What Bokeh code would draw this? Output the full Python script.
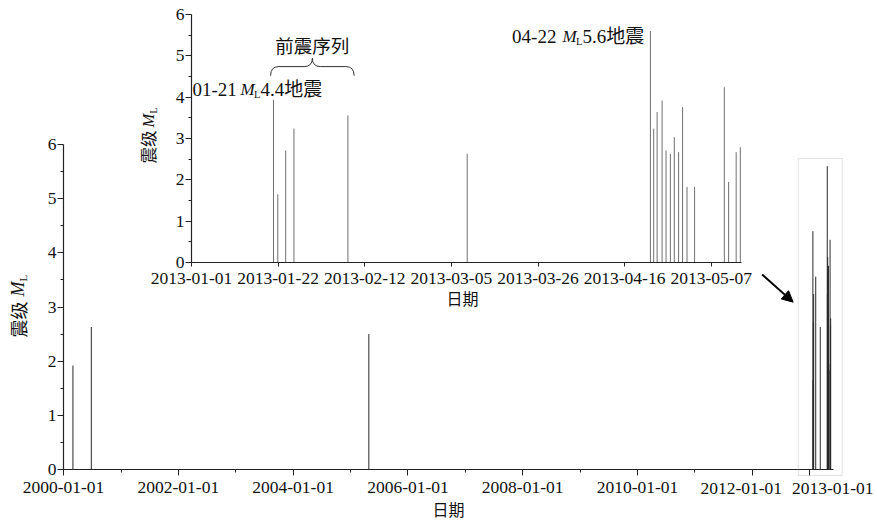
import numpy as np
import pandas as pd
from bokeh.plotting import figure
from bokeh.models import (Range1d, FixedTicker, DatetimeTickFormatter, Label,
                          BoxAnnotation, Arrow, NormalHead, ColumnDataSource)
from bokeh.embed import file_html
from bokeh.resources import INLINE

# ---------------- data ----------------
early_dates = ["2000-03-01", "2000-06-26", "2005-04-27"]
early_mags = [1.92, 2.63, 2.50]

seq_dates = ["2013-01-20 21:00", "2013-01-21 22:00", "2013-01-23 20:00", "2013-01-25 20:00",
             "2013-02-07 22:00", "2013-03-08 20:00",
             "2013-04-22 06:00", "2013-04-23 01:00", "2013-04-23 21:00", "2013-04-25 02:00",
             "2013-04-26 01:00", "2013-04-27 02:00", "2013-04-28 01:00", "2013-04-29 02:00",
             "2013-04-30 01:00", "2013-05-01 03:00", "2013-05-02 23:00", "2013-05-10 04:00",
             "2013-05-11 05:00", "2013-05-13 01:00", "2013-05-14 01:00"]
seq_mags = [4.4, 1.65, 2.71, 3.24, 3.56, 2.63,
            5.6, 3.24, 3.64, 3.92, 2.71, 2.63, 3.03, 2.67, 3.76, 1.83, 1.83, 4.24,
            1.95, 2.67, 2.79]
n_foreshocks = 5          # first events form the foreshock sequence
main_shock_index = 6      # 04-22 ML5.6

main_ticks = ["2000-01-01", "2002-01-01", "2004-01-01", "2006-01-01", "2008-01-01",
              "2010-01-01", "2012-01-01", "2013-01-01"]
main_minor = ["2001-01-01", "2003-01-01", "2005-01-01", "2007-01-01", "2009-01-01", "2011-01-01"]
inset_ticks = ["2013-01-01", "2013-01-22", "2013-02-12", "2013-03-05", "2013-03-26",
               "2013-04-16", "2013-05-07"]
mag_ticks = [0, 1, 2, 3, 4, 5, 6]
mag_minor = [0.5, 1.5, 2.5, 3.5, 4.5, 5.5]

main_xrange = ("2000-01-01", "2013-06-01")
inset_xrange = ("2013-01-01", "2013-05-14 08:00")
mag_range = (0, 6)

DAY = 86400000.0


def ms(s):
    return pd.Timestamp(s).value / 1e6


SERIF = "Liberation Serif"
CJK = "Noto Sans CJK SC"
MIX = "'Liberation Serif', 'Noto Sans CJK SC'"
INK = "#111111"

W, H = 877, 523
# frame borders (left, right, top, bottom)
MAIN_B = (63, 44, 144, 54)
INSET_B = (191, 136, 14, 261)

fmt = DatetimeTickFormatter(**{k: "%Y-%m-%d" for k in
                               ["microseconds", "milliseconds", "seconds", "minsec", "minutes",
                                "hourmin", "hours", "days", "months", "years"]})


def make_fig(xr, borders, **kw):
    l, r, t, b = borders
    return figure(width=W, height=H, x_axis_type="datetime",
                  x_range=Range1d(ms(xr[0]), ms(xr[1])), y_range=Range1d(*mag_range),
                  output_backend="svg", toolbar_location=None, title=None,
                  min_border_left=l, min_border_right=r, min_border_top=t, min_border_bottom=b,
                  **kw)


def px_fn(xr, borders):
    l, r, t, b = borders
    x0, x1 = ms(xr[0]), ms(xr[1])
    fx = lambda v: l + (v - x0) / (x1 - x0) * (W - l - r)
    fy = lambda m: t + (mag_range[1] - m) / (mag_range[1] - mag_range[0]) * (H - t - b)
    return fx, fy


def style_axes(fig, xticks, xminor, xtick_out, xstand):
    xa, ya = fig.xaxis[0], fig.yaxis[0]
    xa.ticker = FixedTicker(ticks=[ms(t) for t in xticks], minor_ticks=[ms(t) for t in xminor])
    xa.formatter = fmt
    ya.ticker = FixedTicker(ticks=mag_ticks, minor_ticks=mag_minor)
    for ax in (xa, ya):
        ax.axis_line_color = "#222222"
        ax.axis_line_width = 1.2
        ax.major_tick_line_color = "#222222"
        ax.minor_tick_line_color = "#222222"
        ax.major_tick_in = 0
        ax.minor_tick_in = 0
        ax.minor_tick_out = 3
        ax.major_label_text_font = SERIF
        ax.major_label_text_font_size = "17.5px"
        ax.major_label_text_color = INK
    xa.major_tick_out = xtick_out
    xa.major_label_standoff = xstand
    ya.major_tick_out = 6
    ya.major_label_standoff = 1
    fig.grid.visible = False
    fig.outline_line_color = None


def txt(fig, x, y, text, xo=0, yo=0, size=18, font=MIX, style="normal", align="left",
        baseline="middle", angle=0.0, bg=None):
    fig.add_layout(Label(x=x, y=y, text=text, x_offset=xo, y_offset=yo, text_font=font,
                         text_font_size=f"{size}px", text_font_style=style, text_align=align,
                         text_baseline=baseline, angle=angle, text_color=INK,
                         background_fill_color=bg))


# ---------------- main chart ----------------
all_dates = [ms(d) for d in early_dates + seq_dates]
all_mags = early_mags + seq_mags
src_main = ColumnDataSource(dict(x=all_dates, y0=[0] * len(all_mags), y1=all_mags))

p = make_fig(main_xrange, MAIN_B)
style_axes(p, main_ticks, main_minor, 6, 6)
p.segment(x0="x", y0="y0", x1="x", y1="y1", source=src_main, line_color="#2a2a2a", line_width=1)
# the two crowded tick labels are drawn shifted on the overlay
p.xaxis[0].major_label_overrides = {int(ms(t)): "" for t in main_ticks[-2:]}
p.add_layout(Arrow(end=NormalHead(size=11, fill_color="black", line_color="black"),
                   x_start=ms("2012-03-04"), y_start=3.60, x_end=ms("2012-09-17"), y_end=3.09,
                   line_width=2, line_color="black"))

# ---------------- inset chart ----------------
src_in = ColumnDataSource(dict(x=[ms(d) for d in seq_dates], y0=[0] * len(seq_mags), y1=seq_mags))
q = make_fig(inset_xrange, INSET_B, background_fill_color=None, border_fill_color=None,
             styles={"position": "absolute", "top": "0px", "left": "0px"})
style_axes(q, inset_ticks, [], 4, 6)
q.segment(x0="x", y0="y0", x1="x", y1="y1", source=src_in, line_color="#707070", line_width=1)

# annotation: first foreshock
xa_, ya_ = ms(seq_dates[0]), seq_mags[0]
txt(q, xa_, ya_, "01-21", xo=-81, yo=-8.5, size=19, font=SERIF)
txt(q, xa_, ya_, "M", xo=-33, yo=-8.5, size=17, font=SERIF, style="italic")
txt(q, xa_, ya_, "4.4地震", xo=-13, yo=-8.5, size=19, font=MIX, bg="white")
txt(q, xa_, ya_, "L", xo=-19.5, yo=-14, size=10.5, font=SERIF)

# annotation: main shock
xm_, ym_ = ms(seq_dates[main_shock_index]), seq_mags[main_shock_index]
txt(q, xm_, ym_, "04-22", xo=-138.3, yo=-5, size=19, font=SERIF)
txt(q, xm_, ym_, "M", xo=-88, yo=-5, size=17, font=SERIF, style="italic")
txt(q, xm_, ym_, "L", xo=-74.5, yo=-10.5, size=10.5, font=SERIF)
txt(q, xm_, ym_, "5.6地震", xo=-68, yo=-5, size=19, font=MIX)

# brace over the foreshock sequence
fore = [ms(d) for d in seq_dates[:n_foreshocks]]
xL, xR = min(fore) - 0.7 * DAY, max(fore) + 1.5 * DAY
xC = (xL + xR) / 2
yE, yB, yT = 4.52, 4.74, 4.94
r = 2.0 * DAY
q.quadratic(x0=[xL, xC - r, xC, xR - r], y0=[yE, yB, yT, yB],
            x1=[xL + r, xC, xC + r, xR], y1=[yB, yT, yB, yE],
            cx=[xL, xC, xC, xR], cy=[yB, yB, yB, yB], line_color="#333333", line_width=1)
q.segment(x0=[xL + r, xC + r], y0=[yB, yB], x1=[xC - r, xR - r], y1=[yB, yB],
          line_color="#333333", line_width=1)
txt(q, xC, yT, "前震序列", yo=13, size=18.5, font=CJK, align="center")

# ---------------- overlay for texts/marks outside the frames ----------------
o = figure(width=W, height=H, x_range=Range1d(0, W), y_range=Range1d(H, 0),
           output_backend="svg", toolbar_location=None, title=None,
           x_axis_location=None, y_axis_location=None, min_border=0,
           background_fill_color=None, border_fill_color=None, outline_line_color=None,
           styles={"position": "absolute", "top": "0px", "left": "0px"})
o.grid.visible = False

mx, my = px_fn(main_xrange, MAIN_B)
ix, iy = px_fn(inset_xrange, INSET_B)

# main axis titles
xl = mx(ms(main_xrange[0])) - 46
txt(o, xl, my(0) - 132, "震级", size=18, font=CJK, angle=np.pi / 2)
txt(o, xl, my(0) - 173, "M", size=18, font=SERIF, style="italic", angle=np.pi / 2)
txt(o, xl + 5, my(0) - 188, "L", size=11, font=SERIF, angle=np.pi / 2)
txt(o, (mx(ms(main_xrange[0])) + mx(ms(main_xrange[1]))) / 2, my(0) + 39, "日期", size=16,
    font=CJK, align="center")

# inset axis titles
xli = ix(ms(inset_xrange[0])) - 43.5
txt(o, xli, iy(0) - 99, "震级", size=16.5, font=CJK, angle=np.pi / 2)
txt(o, xli, iy(0) - 135, "M", size=16.5, font=SERIF, style="italic", angle=np.pi / 2)
txt(o, xli + 5, iy(0) - 149, "L", size=10, font=SERIF, angle=np.pi / 2)
txt(o, (ix(ms(inset_xrange[0])) + ix(ms(inset_xrange[1]))) / 2 - 4, iy(0) + 35, "日期", size=16,
    font=CJK, align="center")

# shifted labels of the last two main ticks
for t, off in zip(main_ticks[-2:], (-11, 23)):
    txt(o, mx(ms(t)) + off, my(0) + 19, t, size=17.5, font=SERIF, align="center")

# highlight box around the 2013 sequence
box_pad = 73 * DAY
o.add_layout(BoxAnnotation(left=mx(ms(inset_xrange[0]) - box_pad),
                           right=mx(ms(inset_xrange[1]) + box_pad),
                           top=my(max(seq_mags) + 0.14), bottom=my(-0.11), fill_alpha=0,
                           line_color="#9a9a9a", line_width=1))

open("out.html", "w").write(file_html([p, q, o], INLINE))
